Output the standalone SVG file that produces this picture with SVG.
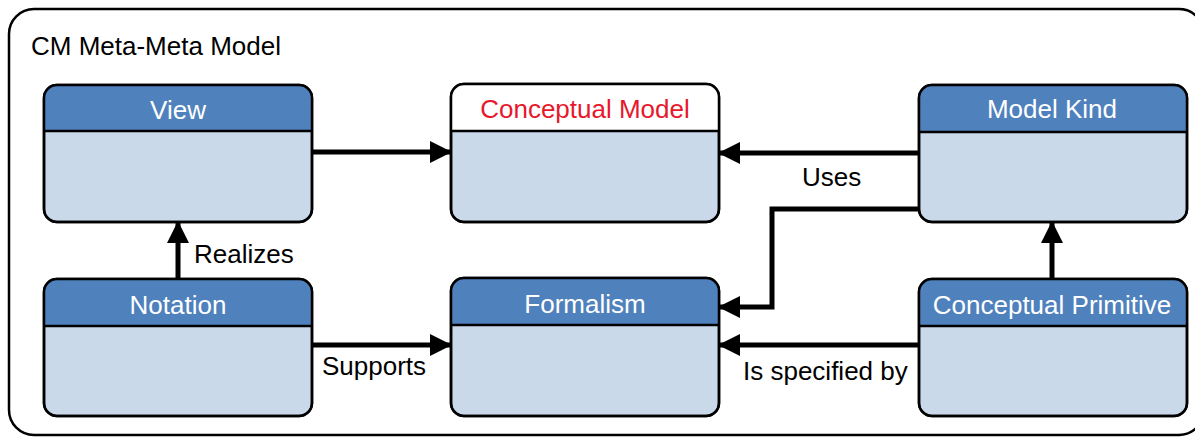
<svg xmlns="http://www.w3.org/2000/svg" width="1195" height="437" viewBox="0 0 1195 437">
  <style>
    text { font-family: "Liberation Sans", Arial, sans-serif; font-size: 26px; }
    .frame { fill: #ffffff; stroke: #000000; stroke-width: 2.5; }
    .body { fill: #c9d9ea; stroke: #000000; stroke-width: 2.5; }
    .head { fill: #4f81bd; }
    .head-plain { fill: #ffffff; }
    .sep { stroke: #000000; stroke-width: 2.5; }
    .title { fill: #ffffff; text-anchor: middle; }
    .title-red { fill: #e8172c; text-anchor: middle; }
    .label { fill: #000000; }
    .edge { fill: none; stroke: #000000; stroke-width: 5; }
  </style>
  <defs>
    <marker id="arrow" markerUnits="userSpaceOnUse" markerWidth="24" markerHeight="24" viewBox="0 0 22 24" refX="21" refY="12" orient="auto">
      <path d="M0,1 L22,12 L0,23 Z" fill="#000000"/>
    </marker>
    <clipPath id="clipView"><rect x="44" y="85" width="268" height="137" rx="13"/></clipPath>
    <clipPath id="clipCM"><rect x="451" y="84" width="268" height="138" rx="13"/></clipPath>
    <clipPath id="clipMK"><rect x="919" y="85" width="268" height="137" rx="13"/></clipPath>
    <clipPath id="clipNot"><rect x="44" y="279" width="268" height="137" rx="13"/></clipPath>
    <clipPath id="clipFor"><rect x="451" y="278" width="268" height="138" rx="13"/></clipPath>
    <clipPath id="clipCP"><rect x="919" y="279" width="268" height="137" rx="13"/></clipPath>
  </defs>

  <!-- enclosing package -->
  <g id="frame">
    <rect class="frame" x="9" y="9" width="1195" height="426" rx="25"/>
    <text class="label" x="31" y="55">CM Meta-Meta Model</text>
  </g>

  <!-- connectors -->
  <g id="connectors">
    <line class="edge" x1="312" y1="152" x2="451" y2="152" marker-end="url(#arrow)"/>
    <line class="edge" x1="919" y1="153" x2="719" y2="153" marker-end="url(#arrow)"/>
    <polyline class="edge" points="919,209 772,209 772,307 719,307" marker-end="url(#arrow)"/>
    <line class="edge" x1="1052" y1="279" x2="1052" y2="222" marker-end="url(#arrow)"/>
    <line class="edge" x1="178" y1="279" x2="178" y2="222" marker-end="url(#arrow)"/>
    <line class="edge" x1="312" y1="345" x2="451" y2="345" marker-end="url(#arrow)"/>
    <line class="edge" x1="919" y1="345" x2="719" y2="345" marker-end="url(#arrow)"/>
    <text class="label" x="802" y="186">Uses</text>
    <text class="label" x="194" y="263">Realizes</text>
    <text class="label" x="322" y="375">Supports</text>
    <text class="label" x="743" y="380">Is specified by</text>
  </g>

  <g id="view">
    <rect class="body" x="44" y="85" width="268" height="137" rx="13"/>
    <rect class="head" x="44" y="85" width="268" height="46" clip-path="url(#clipView)"/>
    <line class="sep" x1="44" y1="131" x2="312" y2="131"/>
    <rect x="44" y="85" width="268" height="137" rx="13" fill="none" stroke="#000" stroke-width="2.5"/>
    <text class="title" x="178" y="119">View</text>
  </g>

  <g id="conceptual-model">
    <rect class="body" x="451" y="84" width="268" height="138" rx="13"/>
    <rect class="head-plain" x="451" y="84" width="268" height="47" clip-path="url(#clipCM)"/>
    <line class="sep" x1="451" y1="131" x2="719" y2="131"/>
    <rect x="451" y="84" width="268" height="138" rx="13" fill="none" stroke="#000" stroke-width="2.5"/>
    <text class="title-red" x="585" y="118">Conceptual Model</text>
  </g>

  <g id="model-kind">
    <rect class="body" x="919" y="85" width="268" height="137" rx="13"/>
    <rect class="head" x="919" y="85" width="268" height="47" clip-path="url(#clipMK)"/>
    <line class="sep" x1="919" y1="132" x2="1187" y2="132"/>
    <rect x="919" y="85" width="268" height="137" rx="13" fill="none" stroke="#000" stroke-width="2.5"/>
    <text class="title" x="1052" y="118">Model Kind</text>
  </g>

  <g id="notation">
    <rect class="body" x="44" y="279" width="268" height="137" rx="13"/>
    <rect class="head" x="44" y="279" width="268" height="47" clip-path="url(#clipNot)"/>
    <line class="sep" x1="44" y1="326" x2="312" y2="326"/>
    <rect x="44" y="279" width="268" height="137" rx="13" fill="none" stroke="#000" stroke-width="2.5"/>
    <text class="title" x="178" y="314">Notation</text>
  </g>

  <g id="formalism">
    <rect class="body" x="451" y="278" width="268" height="138" rx="13"/>
    <rect class="head" x="451" y="278" width="268" height="47" clip-path="url(#clipFor)"/>
    <line class="sep" x1="451" y1="325" x2="719" y2="325"/>
    <rect x="451" y="278" width="268" height="138" rx="13" fill="none" stroke="#000" stroke-width="2.5"/>
    <text class="title" x="585" y="313">Formalism</text>
  </g>

  <g id="conceptual-primitive">
    <rect class="body" x="919" y="279" width="268" height="137" rx="13"/>
    <rect class="head" x="919" y="279" width="268" height="47" clip-path="url(#clipCP)"/>
    <line class="sep" x1="919" y1="326" x2="1187" y2="326"/>
    <rect x="919" y="279" width="268" height="137" rx="13" fill="none" stroke="#000" stroke-width="2.5"/>
    <text class="title" x="1052" y="314">Conceptual Primitive</text>
  </g>
</svg>
